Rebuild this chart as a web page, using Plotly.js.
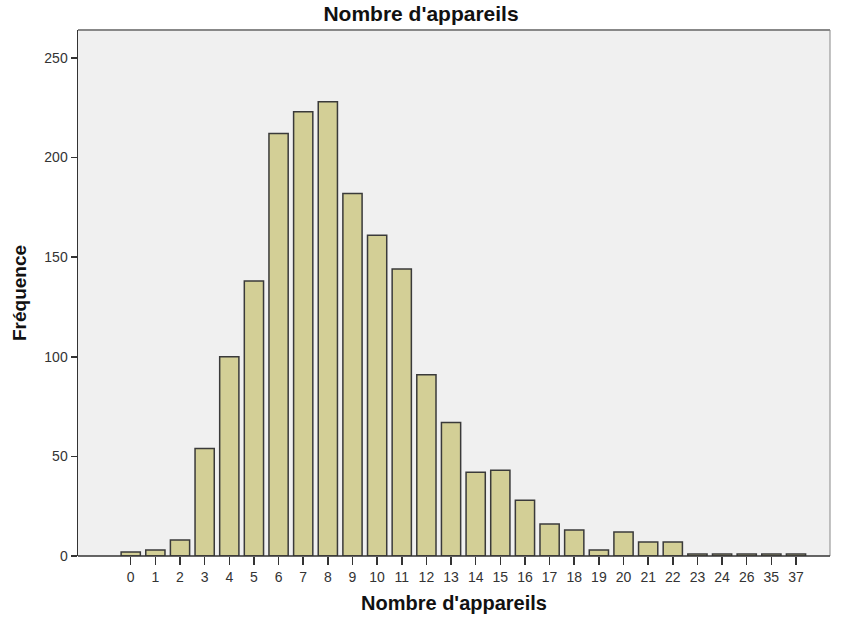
<!DOCTYPE html>
<html><head><meta charset="utf-8">
<script src="https://cdn.plot.ly/plotly-3.0.1.min.js"></script>
<style>html,body{margin:0;padding:0;background:#fff;}#chart{width:842px;height:619px;}</style>
</head><body><div id="chart"></div>
<script>
const categories = ['0','1','2','3','4','5','6','7','8','9','10','11','12','13','14','15','16','17','18','19','20','21','22','23','24','26','35','37'];
const frequencies = [2,3,8,54,100,138,212,223,228,182,161,144,91,67,42,43,28,16,13,3,12,7,7,1,1,1,1,1];
const yTicks = [0,50,100,150,200,250];
const chartTitle = "Nombre d'appareils";
const xTitle = "Nombre d'appareils";
const yTitle = "Fréquence";

const fontFam = 'Arial, "Liberation Sans", sans-serif';
const trace = {
  type: 'bar', x: categories, y: frequencies,
  marker: {color: '#d3cf96', line: {color: '#3a3a3a', width: 1.5}},
  width: 0.78, hoverinfo: 'x+y'
};
const layout = {
  width: 842, height: 619,
  margin: {l: 78, r: 12, t: 30, b: 63},
  paper_bgcolor: '#ffffff', plot_bgcolor: '#f0f0f0',
  showlegend: false,
  title: {text: chartTitle, x: 0.5, xanchor: 'center', y: 0.978, yanchor: 'middle',
          font: {family: fontFam, size: 21, color: '#111', weight: 'bold'}},
  xaxis: {
    type: 'category', range: [-2.14, 28.38], showgrid: false, zeroline: false,
    showline: false, ticks: 'outside', ticklen: 8, tickwidth: 1.5, tickcolor: '#333',
    tickfont: {family: fontFam, size: 14, color: '#333'},
    title: {text: xTitle, standoff: 12, font: {family: fontFam, size: 20, color: '#111', weight: 'bold'}}
  },
  yaxis: {
    range: [0, 264], tickvals: yTicks, showgrid: false, zeroline: false,
    showline: true, linecolor: '#333', linewidth: 1.5,
    ticks: 'outside', ticklen: 6, tickwidth: 1.5, tickcolor: '#333',
    tickfont: {family: fontFam, size: 14, color: '#333'},
    title: {text: yTitle, standoff: 12, font: {family: fontFam, size: 19, color: '#111', weight: 'bold'}}
  },
  shapes: [
    {type: 'line', xref: 'paper', yref: 'paper', x0: 0, x1: 1, y0: 1, y1: 1, line: {color: '#888', width: 2}},
    {type: 'line', xref: 'paper', yref: 'paper', x0: 1, x1: 1, y0: 0, y1: 1, line: {color: '#888', width: 1}},
    {type: 'line', xref: 'paper', yref: 'paper', x0: 0, x1: 1, y0: 0, y1: 0, line: {color: '#333', width: 1.5}}
  ]
};
Plotly.newPlot('chart', [trace], layout, {displayModeBar: false, staticPlot: true});
</script></body></html>
